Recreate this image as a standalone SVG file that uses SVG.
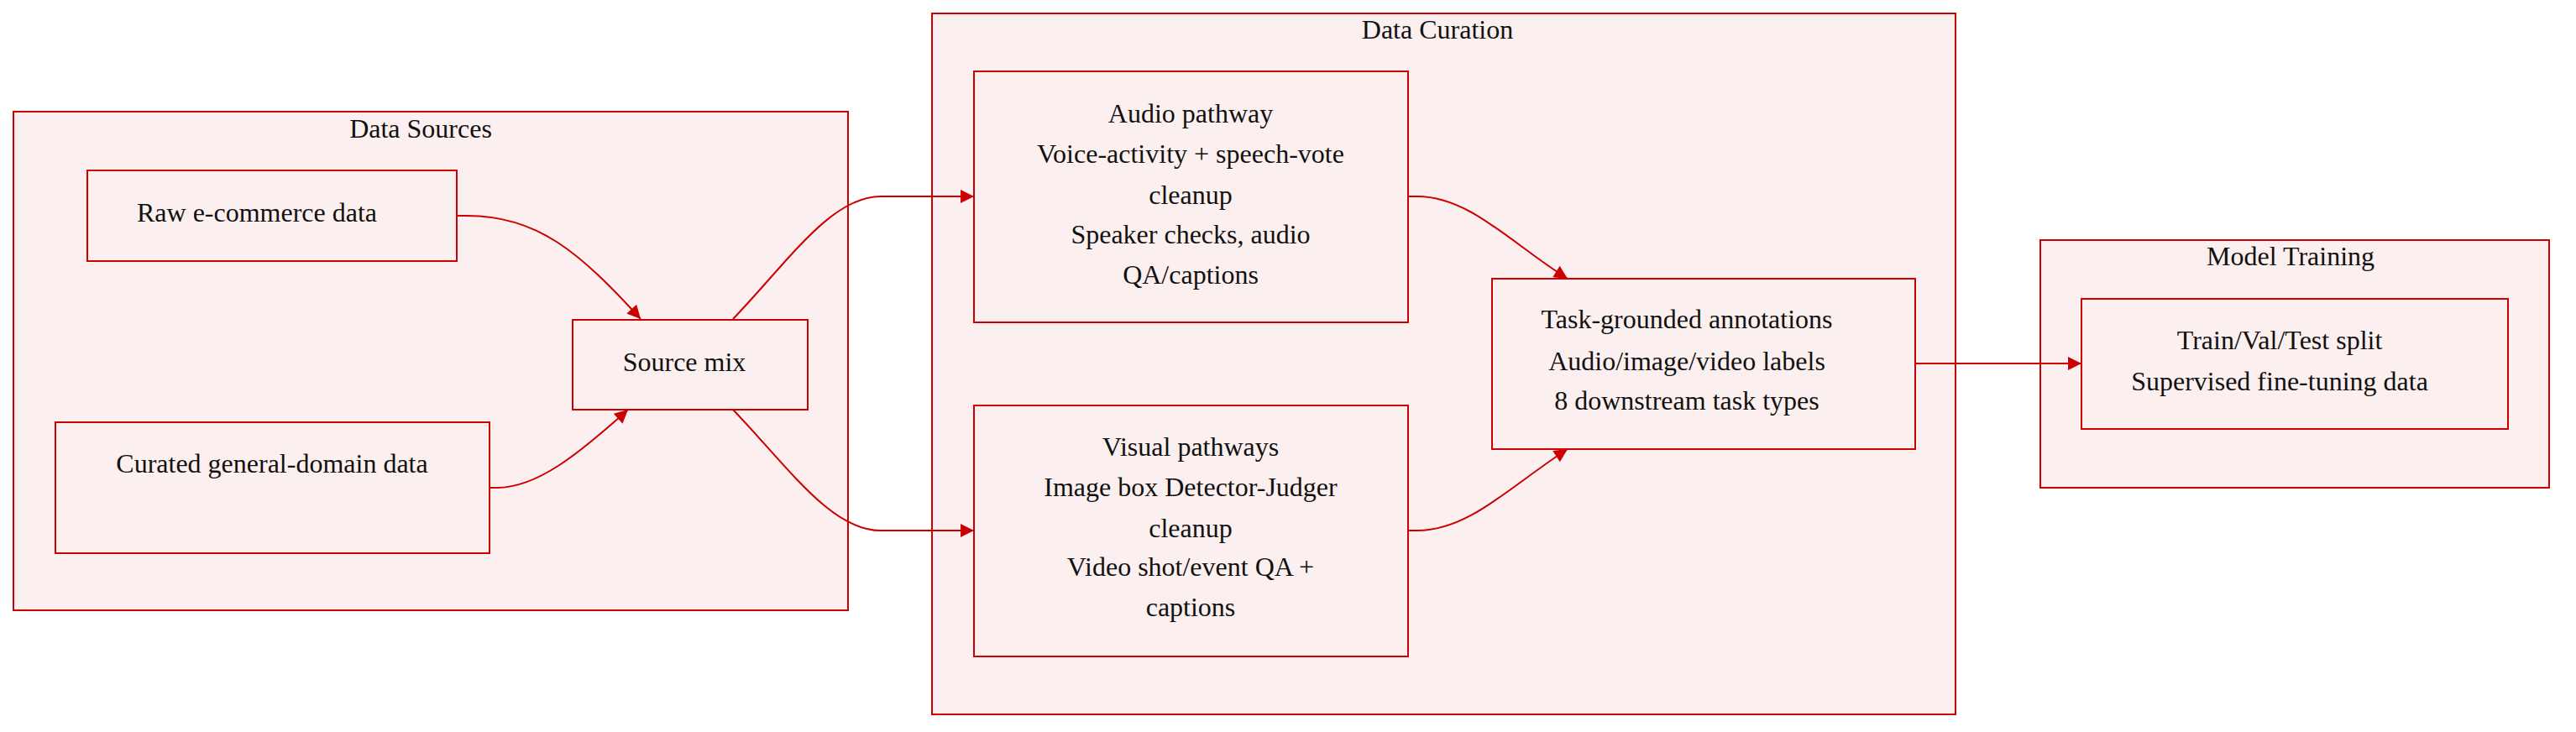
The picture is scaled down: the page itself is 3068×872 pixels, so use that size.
<svg xmlns="http://www.w3.org/2000/svg" width="3068" height="872" viewBox="0 0 3068 872">
<style>
.cluster{fill:#fcefef;stroke:#cc0000;stroke-width:2}
.node{fill:#fcefef;stroke:#cc0000;stroke-width:2}
.edge{fill:none;stroke:#cc0000;stroke-width:2}
text{font-family:"Liberation Serif","Times New Roman",serif;font-size:32px;fill:#111;text-anchor:middle;dominant-baseline:central}
</style>
<defs>
<marker id="arr" viewBox="0 0 10 10" refX="10" refY="5" markerWidth="17" markerHeight="16" markerUnits="userSpaceOnUse" orient="auto">
<path d="M0,0 L10,5 L0,10 z" fill="#cc0000"/>
</marker>
</defs>
<g id="cluster-sources">
<rect class="cluster" x="16" y="133" width="994" height="594"/>
<text x="501" y="153">Data Sources</text>
</g>
<g id="cluster-curation">
<rect class="cluster" x="1110" y="16" width="1219" height="835"/>
<text x="1712" y="35">Data Curation</text>
</g>
<g id="cluster-training">
<rect class="cluster" x="2430" y="286" width="606" height="295"/>
<text x="2728" y="305">Model Training</text>
</g>
<g id="connectors">
<path class="edge" d="M544,257 L556,257 C640,257 690,300 763,380" marker-end="url(#arr)"/>
<path class="edge" d="M583,581 L592,581 C640,581 690,540 748,488" marker-end="url(#arr)"/>
<path class="edge" d="M873,380 C940,310 990,234 1049,234 L1160,234" marker-end="url(#arr)"/>
<path class="edge" d="M873,488 C940,558 990,632 1049,632 L1160,632" marker-end="url(#arr)"/>
<path class="edge" d="M1677,234 L1688,234 C1750,234 1800,290 1867,332" marker-end="url(#arr)"/>
<path class="edge" d="M1677,632 L1688,632 C1750,632 1800,578 1867,535" marker-end="url(#arr)"/>
<path class="edge" d="M2281,433 L2479,433" marker-end="url(#arr)"/>
</g>
<g id="node-raw">
<rect class="node" x="104" y="203" width="440" height="108"/>
<text x="306" y="253">Raw e-commerce data</text>
</g>
<g id="node-curated">
<rect class="node" x="66" y="503" width="517" height="156"/>
<text x="324" y="552">Curated general-domain data</text>
</g>
<g id="node-mix">
<rect class="node" x="682" y="381" width="280" height="107"/>
<text x="815" y="431">Source mix</text>
</g>
<g id="node-audio">
<rect class="node" x="1160" y="85" width="517" height="299"/>
<text x="1418" y="135">Audio pathway</text>
<text x="1418" y="183">Voice-activity + speech-vote</text>
<text x="1418" y="232">cleanup</text>
<text x="1418" y="279">Speaker checks, audio</text>
<text x="1418" y="327">QA/captions</text>
</g>
<g id="node-visual">
<rect class="node" x="1160" y="483" width="517" height="299"/>
<text x="1418" y="532">Visual pathways</text>
<text x="1418" y="580">Image box Detector-Judger</text>
<text x="1418" y="629">cleanup</text>
<text x="1418" y="675">Video shot/event QA +</text>
<text x="1418" y="723">captions</text>
</g>
<g id="node-task">
<rect class="node" x="1777" y="332" width="504" height="203"/>
<text x="2009" y="380">Task-grounded annotations</text>
<text x="2009" y="430">Audio/image/video labels</text>
<text x="2009" y="477">8 downstream task types</text>
</g>
<g id="node-train">
<rect class="node" x="2479" y="356" width="508" height="155"/>
<text x="2715" y="405">Train/Val/Test split</text>
<text x="2715" y="454">Supervised fine-tuning data</text>
</g>
</svg>
